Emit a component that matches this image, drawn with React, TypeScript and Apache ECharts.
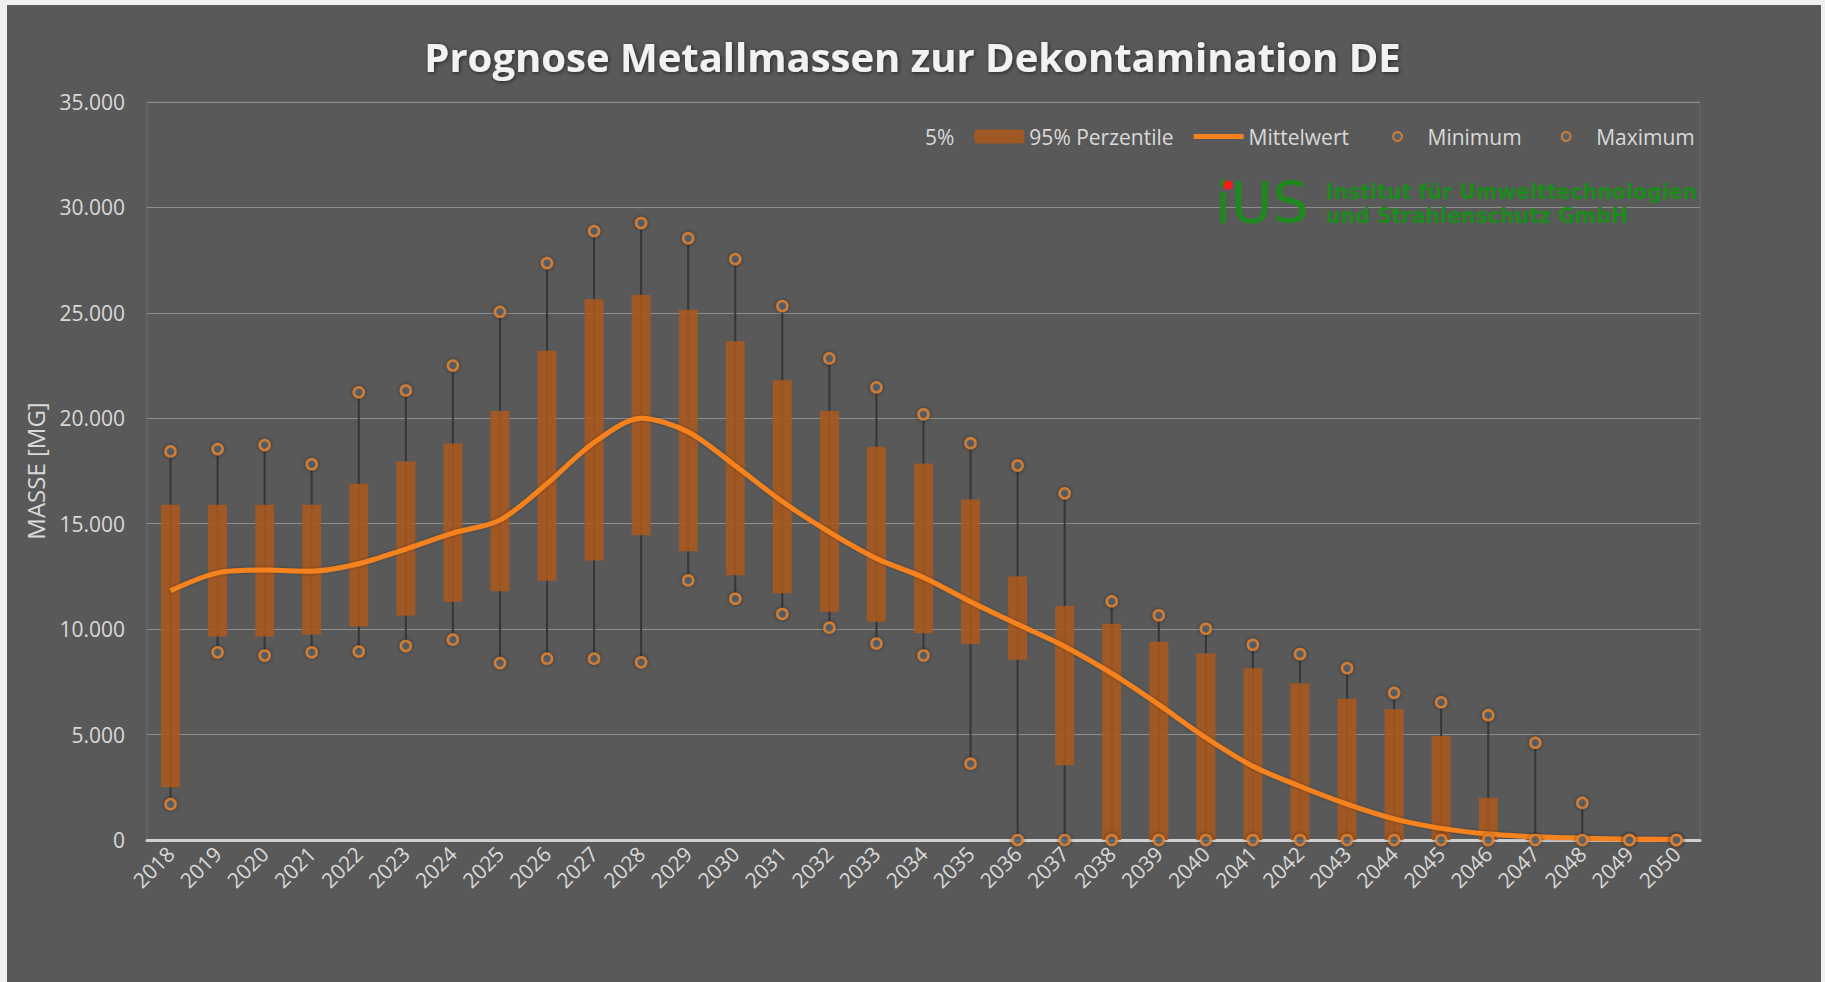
import React, { useEffect, useRef } from "react";
import * as echarts from "echarts";

const years: string[] = [
  "2018", "2019", "2020", "2021", "2022", "2023", "2024", "2025", "2026", "2027", "2028",
  "2029", "2030", "2031", "2032", "2033", "2034", "2035", "2036", "2037", "2038", "2039",
  "2040", "2041", "2042", "2043", "2044", "2045", "2046", "2047", "2048", "2049", "2050",
];

// 5% percentile (bottom of box)
const p5: number[] = [
  2500, 9650, 9650, 9750, 10130, 10650, 11300, 11800, 12300, 13250, 14450,
  13700, 12550, 11700, 10830, 10350, 9800, 9300, 8550, 3550, 0, 0,
  0, 0, 0, 0, 0, 0, 0, 0, 0, 0, 0,
];

// 95% percentile (top of box)
const p95: number[] = [
  15900, 15900, 15900, 15900, 16900, 17950, 18800, 20350, 23200, 25650, 25850,
  25150, 23650, 21800, 20350, 18650, 17850, 16150, 12500, 11100, 10250, 9400,
  8850, 8150, 7430, 6700, 6200, 4930, 2000, 150, 50, 0, 0,
];

const mean: number[] = [
  11820, 12670, 12800, 12750, 13100, 13800, 14550, 15170, 16900, 18850, 20000,
  19350, 17750, 16050, 14600, 13350, 12450, 11300, 10230, 9180, 7900, 6420,
  4850, 3500, 2550, 1700, 1000, 550, 280, 150, 80, 40, 20,
];

const minimum: number[] = [
  1700, 8900, 8750, 8900, 8940, 9200, 9500, 8390, 8600, 8600, 8430,
  12310, 11440, 10720, 10070, 9320, 8750, 3620, 0, 0, 0, 0,
  0, 0, 0, 0, 0, 0, 0, 0, 0, 0, 0,
];

const maximum: number[] = [
  18430, 18540, 18730, 17820, 21230, 21320, 22500, 25050, 27360, 28880, 29260,
  28540, 27550, 25320, 22840, 21470, 20190, 18820, 17760, 16440, 11320, 10660,
  10020, 9260, 8820, 8150, 6980, 6530, 5920, 4610, 1760, 0, 0,
];

const FONT = '"Open Sans", sans-serif';
const TXT = "#d9d9d9";

function fmt(v: number): string {
  return String(Math.round(v)).replace(/\B(?=(\d{3})+(?!\d))/g, ".");
}

export default function App() {
  const ref = useRef<HTMLDivElement>(null);

  useEffect(() => {
    if (!ref.current) return;
    const chart = echarts.init(ref.current, null, { renderer: "svg" });

    const markerStyle = {
      color: "#57616b",
      borderColor: "#f0862a",
      borderWidth: 2.5,
      shadowBlur: 4,
      shadowColor: "rgba(0,0,0,0.55)",
    };

    const option: any = {
      animation: false,
      backgroundColor: "#595959",
      title: {
        text: "Prognose Metallmassen zur Dekontamination DE",
        left: "center",
        top: 31,
        textStyle: {
          color: "#f2f2f2",
          fontSize: 40,
          fontWeight: "bold",
          fontFamily: FONT,
          textShadowColor: "rgba(0,0,0,0.6)",
          textShadowBlur: 4,
          textShadowOffsetX: 1,
          textShadowOffsetY: 1,
        },
      },
      legend: [
        {
          data: [
            "5%",
            "95% Perzentile",
            { name: "Mittelwert", icon: "path://M0,0 L50,0 L50,5 L0,5 Z" },
          ],
          left: 870,
          top: 126,
          padding: 0,
          itemWidth: 50,
          itemHeight: 14,
          itemGap: 20,
          textStyle: { color: TXT, fontSize: 21, fontFamily: FONT },
        },
        {
          data: ["Minimum", "Maximum"],
          left: 1392,
          top: 126,
          padding: 0,
          itemWidth: 50,
          itemHeight: 9,
          itemGap: 39,
          icon: "circle",
          textStyle: { color: TXT, fontSize: 21, fontFamily: FONT },
        },
      ],
      grid: {
        left: 147,
        top: 102,
        width: 1553,
        height: 738,
        show: true,
        borderColor: "#6c6c6c",
        borderWidth: 1,
        backgroundColor: "transparent",
      },
      xAxis: {
        type: "category",
        data: years,
        axisLine: { show: true, lineStyle: { color: "#d0d0d0", width: 3 } },
        axisTick: { show: false },
        axisLabel: {
          color: TXT,
          fontSize: 21,
          fontFamily: FONT,
          rotate: 45,
          margin: 10,
          interval: 0,
        },
        splitLine: { show: false },
      },
      yAxis: {
        type: "value",
        min: 0,
        max: 35000,
        interval: 5000,
        name: "MASSE [MG]",
        nameLocation: "middle",
        nameGap: 100,
        nameTextStyle: { color: TXT, fontSize: 24, fontFamily: FONT },
        axisLine: { show: false },
        axisTick: { show: false },
        axisLabel: {
          color: TXT,
          fontSize: 21,
          fontFamily: FONT,
          margin: 22,
          formatter: (v: number) => fmt(v),
        },
        splitLine: { lineStyle: { color: "#8e8e8e", width: 1 } },
      },
      series: [
        {
          name: "whisker",
          type: "custom",
          silent: true,
          z: 1,
          data: years.map((_, i) => [i, minimum[i], maximum[i]]),
          encode: { x: 0, y: [1, 2] },
          renderItem: (_params: any, api: any) => {
            const lo = api.coord([api.value(0), api.value(1)]);
            const hi = api.coord([api.value(0), api.value(2)]);
            return {
              type: "line",
              shape: { x1: lo[0], y1: lo[1], x2: hi[0], y2: hi[1] },
              style: { stroke: "#363636", lineWidth: 2 },
            };
          },
        },
        {
          name: "5%",
          type: "bar",
          stack: "box",
          barWidth: 19,
          z: 2,
          silent: true,
          itemStyle: { color: "rgba(0,0,0,0)" },
          data: p5,
        },
        {
          name: "95% Perzentile",
          type: "bar",
          stack: "box",
          barWidth: 19,
          z: 2,
          itemStyle: { color: "rgba(170,88,28,0.88)" },
          data: p95.map((v, i) => v - p5[i]),
        },
        {
          name: "Mittelwert",
          type: "line",
          z: 3,
          smooth: 0.3,
          showSymbol: false,
          symbol: "none",
          lineStyle: {
            color: "#f5821f",
            width: 5,
            shadowBlur: 3,
            shadowColor: "rgba(0,0,0,0.35)",
          },
          itemStyle: { color: "#f5821f" },
          data: mean,
        },
        {
          name: "Minimum",
          type: "scatter",
          z: 4,
          symbol: "circle",
          symbolSize: 10,
          itemStyle: markerStyle,
          data: minimum,
        },
        {
          name: "Maximum",
          type: "scatter",
          z: 4,
          symbol: "circle",
          symbolSize: 10,
          itemStyle: markerStyle,
          data: maximum,
        },
      ],
      graphic: [
        { type: "rect", shape: { x: 0, y: 0, width: 7, height: 982 }, style: { fill: "#f0f0f0" }, z: 100 },
        { type: "rect", shape: { x: 0, y: 0, width: 1825, height: 5 }, style: { fill: "#f0f0f0" }, z: 100 },
        { type: "rect", shape: { x: 1821, y: 0, width: 4, height: 982 }, style: { fill: "#f0f0f0" }, z: 100 },
        {
          type: "text",
          x: 1215,
          y: 203,
          z: 50,
          style: {
            text: "iUS",
            fill: "#1d8a1d",
            font: '57px "DejaVu Sans", sans-serif',
            verticalAlign: "middle",
          },
        },
        {
          type: "circle",
          z: 51,
          shape: { cx: 1228, cy: 185, r: 4.5 },
          style: { fill: "#ff1a1a" },
        },
        {
          type: "text",
          x: 1326,
          y: 192,
          z: 50,
          style: {
            text: "Institut für Umwelttechnologien",
            fill: "#1d8a1d",
            font: 'bold 20.5px "DejaVu Sans", sans-serif',
            verticalAlign: "middle",
          },
        },
        {
          type: "text",
          x: 1326,
          y: 216,
          z: 50,
          style: {
            text: "und Strahlenschutz GmbH",
            fill: "#1d8a1d",
            font: 'bold 20.5px "DejaVu Sans", sans-serif',
            verticalAlign: "middle",
          },
        },
      ],
    };

    chart.setOption(option);
    return () => chart.dispose();
  }, []);

  return (
    <div
      ref={ref}
      style={{ position: "fixed", left: 0, top: 0, width: 1825, height: 982 }}
    />
  );
}
